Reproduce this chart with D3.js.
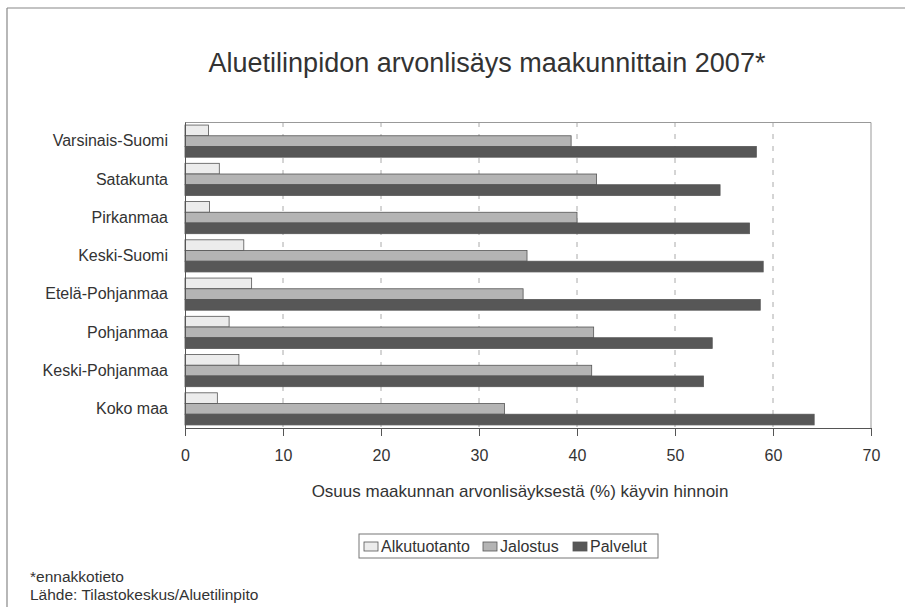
<!DOCTYPE html>
<html>
<head>
<meta charset="utf-8">
<script src="https://cdn.jsdelivr.net/npm/d3@7"></script>
<style>
  body { margin: 0; background: #fff; }
  text { font-family: "Liberation Sans", Arial, sans-serif; fill: #333; }
</style>
</head>
<body>
<script>
// data
const regions = ['Varsinais-Suomi', 'Satakunta', 'Pirkanmaa', 'Keski-Suomi', 'Etelä-Pohjanmaa', 'Pohjanmaa', 'Keski-Pohjanmaa', 'Koko maa'];
const seriesNames = ['Alkutuotanto', 'Jalostus', 'Palvelut'];
const alkutuotanto = [2.4, 3.5, 2.5, 6.0, 6.8, 4.5, 5.5, 3.3];
const jalostus = [39.4, 42.0, 40.0, 34.9, 34.5, 41.7, 41.5, 32.6];
const palvelut = [58.3, 54.6, 57.6, 59.0, 58.7, 53.8, 52.9, 64.2];
const xTicks = [0, 10, 20, 30, 40, 50, 60, 70];

const colors = ['#ececec', '#b4b4b4', '#575757'];
const FONT = '"Liberation Sans", Arial, sans-serif';

var W = 905, H = 607;
var margin = { top: 122, right: 34, bottom: 179, left: 185 },
    width = W - margin.left - margin.right,
    height = H - margin.top - margin.bottom;

var svgRoot = d3.select("body")
    .append("svg")
    .attr("width", W)
    .attr("height", H);

// outer frame (top and left edges visible)
svgRoot.append("line").attr("x1", 7).attr("x2", W).attr("y1", 8).attr("y2", 8)
    .attr("stroke", "#888").attr("stroke-width", 1.2);
svgRoot.append("line").attr("x1", 7).attr("x2", 7).attr("y1", 8).attr("y2", H)
    .attr("stroke", "#888").attr("stroke-width", 1.2);

var svg = svgRoot.append("g")
    .attr("transform", `translate(${margin.left},${margin.top})`);

var x = d3.scaleLinear().domain([0, 70]).range([0, width]);

var y0 = d3.scaleBand().domain(regions).range([0, height])
    .paddingInner(0.16).paddingOuter(0.08);

var y1 = d3.scaleBand().domain(seriesNames).range([0, y0.bandwidth()]);

// dashed grid
svg.append("g")
    .selectAll("line")
    .data(xTicks.filter(d => d > 0 && d < 70))
    .join("line")
    .attr("x1", d => x(d)).attr("x2", d => x(d))
    .attr("y1", 0).attr("y2", height)
    .attr("stroke", "#aaa")
    .attr("stroke-dasharray", "5,7");

// plot frame top/right
svg.append("path")
    .attr("d", `M0,0.5H${width}V${height}`)
    .attr("fill", "none").attr("stroke", "#999");

// bars
var table = regions.map((r, i) => ({ region: r, values: [alkutuotanto[i], jalostus[i], palvelut[i]] }));

svg.append("g")
    .selectAll("g")
    .data(table)
    .join("g")
    .attr("transform", d => `translate(0,${y0(d.region)})`)
    .selectAll("rect")
    .data(d => d.values.map((v, j) => ({ key: seriesNames[j], value: v, j: j })))
    .join("rect")
    .attr("x", x(0))
    .attr("y", d => y1(d.key))
    .attr("width", d => x(d.value) - x(0))
    .attr("height", y1.bandwidth())
    .attr("fill", d => colors[d.j])
    .attr("stroke", "#555")
    .attr("stroke-width", 0.8);

// x axis
var xAxis = svg.append("g")
    .attr("transform", `translate(0,${height})`)
    .call(d3.axisBottom(x).tickValues(xTicks).tickSize(8).tickPadding(14));
xAxis.select(".domain").attr("stroke", "#555");
xAxis.selectAll(".tick line").attr("stroke", "#555");
xAxis.selectAll("text").style("font-size", "16px")
    .style("font-family", FONT).attr("fill", "#333");

// y axis (labels only + line)
var yAxis = svg.append("g")
    .call(d3.axisLeft(y0).tickSize(0).tickPadding(17));
yAxis.select(".domain").attr("stroke", "#555");
yAxis.selectAll("text").style("font-size", "16px")
    .style("font-family", FONT).attr("fill", "#333");

// title
svgRoot.append("text")
    .attr("x", 487)
    .attr("y", 72)
    .attr("text-anchor", "middle")
    .style("font-size", "27px")
    .text("Aluetilinpidon arvonlisäys maakunnittain 2007*");

// x-axis title
svgRoot.append("text")
    .attr("x", 520)
    .attr("y", 497)
    .attr("text-anchor", "middle")
    .style("font-size", "17px")
    .text("Osuus maakunnan arvonlisäyksestä (%) käyvin hinnoin");

// legend
var legend = svgRoot.append("g").attr("transform", "translate(359,534)");
legend.append("rect")
    .attr("width", 299).attr("height", 24)
    .attr("fill", "#fff").attr("stroke", "#777");
var legendX = [5, 124, 214];
var items = legend.selectAll("g.item")
    .data(seriesNames)
    .join("g")
    .attr("class", "item")
    .attr("transform", (d, i) => `translate(${legendX[i]},0)`);
items.append("rect")
    .attr("y", 8).attr("width", 14).attr("height", 9)
    .attr("fill", (d, i) => colors[i]).attr("stroke", "#555").attr("stroke-width", 0.8);
items.append("text")
    .attr("x", 17).attr("y", 18)
    .style("font-size", "16px")
    .text(d => d);

// footnotes
svgRoot.append("text").attr("x", 30).attr("y", 582)
    .style("font-size", "15.5px").text("*ennakkotieto");
svgRoot.append("text").attr("x", 30).attr("y", 600)
    .style("font-size", "15.5px").text("Lähde: Tilastokeskus/Aluetilinpito");
</script>
</body>
</html>
